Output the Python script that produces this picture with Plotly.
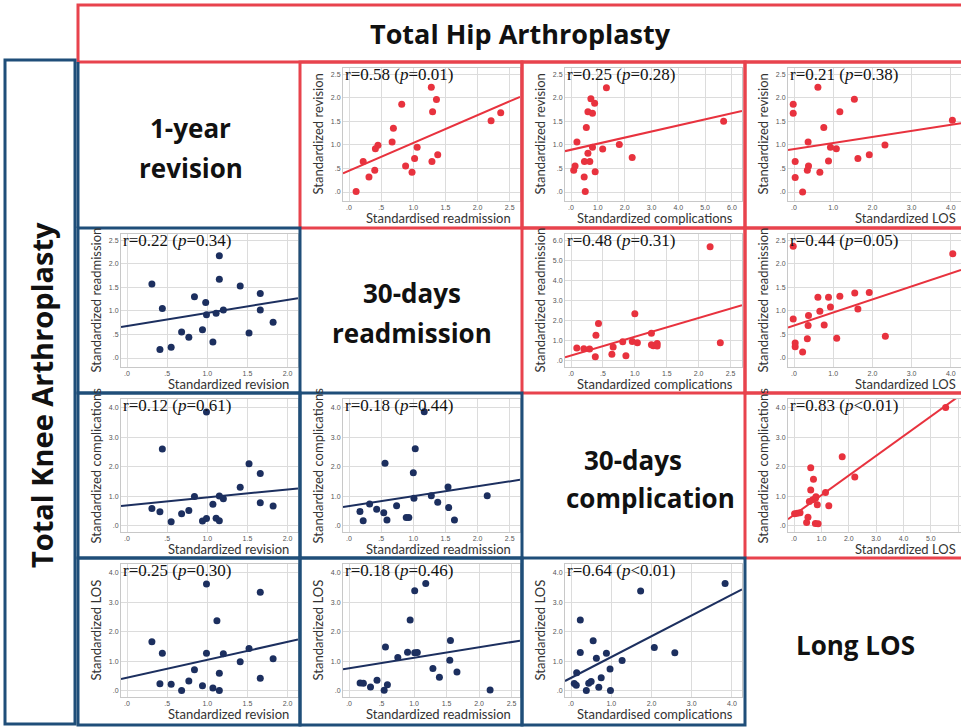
from plotly import graph_objs as go

W, H = 961, 727

# ---- data (standardized values) ----
# Total Hip Arthroplasty (upper triangle)
hip_readm_vs_rev_x = [0.11, 0.22, 0.31, 0.40, 0.41, 0.45, 0.67, 0.69, 0.82, 0.88,
                      0.98, 1.02, 1.06, 1.28, 1.29, 1.30, 1.36, 1.38, 2.21, 2.36]
hip_readm_vs_rev_y = [0.01, 0.65, 0.32, 0.46, 0.92, 0.99, 1.06, 1.35, 1.86, 0.55,
                      0.42, 0.71, 0.95, 2.22, 0.65, 1.70, 1.96, 0.79, 1.51, 1.68]

hip_comp_vs_rev_x = [0.10, 0.15, 0.22, 0.49, 0.50, 0.53, 0.57, 0.63, 0.63, 0.70,
                     0.74, 0.80, 0.80, 0.88, 0.90, 1.18, 1.32, 1.80, 2.28, 5.69]
hip_comp_vs_rev_y = [0.46, 0.55, 1.06, 0.32, 0.65, 0.01, 1.37, 0.82, 1.70, 0.65,
                     1.98, 1.67, 0.95, 1.88, 0.43, 0.91, 2.21, 1.01, 0.73, 1.50]

hip_los_vs_rev_x = [-0.02, -0.02, 0.03, 0.03, 0.22, 0.34, 0.36, 0.37, 0.61, 0.66,
                    0.76, 0.88, 0.93, 1.08, 1.17, 1.54, 1.63, 1.92, 2.32, 4.04]
hip_los_vs_rev_y = [1.86, 1.67, 0.65, 0.31, 0.00, 0.46, 1.06, 0.55, 2.22, 0.42,
                    1.37, 0.66, 0.95, 0.92, 1.70, 1.97, 0.71, 0.79, 1.00, 1.52]

hip_comp_vs_readm_x = [0.09, 0.20, 0.29, 0.38, 0.39, 0.43, 0.64, 0.66, 0.81, 0.86,
                       0.96, 1.00, 1.04, 1.26, 1.26, 1.29, 1.35, 1.35, 2.18, 2.34]
hip_comp_vs_readm_y = [0.64, 0.61, 0.59, 0.21, 1.27, 1.86, 0.33, 0.69, 0.95, 0.26,
                       0.97, 2.34, 0.90, 1.38, 0.81, 0.76, 0.86, 0.74, 5.67, 0.90]

hip_los_vs_readm_x = [-0.02, -0.02, 0.03, 0.03, 0.22, 0.34, 0.36, 0.37, 0.61, 0.66,
                      0.77, 0.88, 0.93, 1.09, 1.17, 1.55, 1.63, 1.92, 2.33, 4.05]
hip_los_vs_readm_y = [2.37, 0.83, 0.32, 0.24, 0.13, 0.41, 0.69, 0.90, 1.29, 0.99,
                      0.70, 1.29, 1.08, 0.42, 1.31, 1.38, 1.04, 1.39, 0.46, 2.21]

hip_los_vs_comp_x = [0.02, 0.12, 0.22, 0.46, 0.51, 0.56, 0.61, 0.61, 0.68, 0.71,
                     0.78, 0.78, 0.80, 0.85, 0.88, 1.15, 1.27, 1.76, 2.22, 5.54]
hip_los_vs_comp_y = [0.40, 0.42, 0.43, 0.10, 0.28, 0.82, 1.96, 1.21, 0.88, 1.57,
                     0.92, 0.07, 0.98, 0.71, 0.06, 1.12, 0.67, 2.34, 1.65, 4.01]

# Total Knee Arthroplasty (lower triangle)
knee_rev_vs_readm_x = [0.31, 0.41, 0.44, 0.55, 0.68, 0.77, 0.84, 0.94, 0.98, 0.99,
                       1.07, 1.11, 1.15, 1.15, 1.20, 1.41, 1.52, 1.66, 1.66, 1.82]
knee_rev_vs_readm_y = [1.57, 0.18, 1.05, 0.23, 0.55, 0.44, 1.30, 0.60, 1.18, 0.92,
                       0.34, 0.95, 2.17, 1.67, 1.02, 1.53, 0.53, 1.37, 1.02, 0.76]

knee_rev_vs_comp_x = [0.31, 0.41, 0.44, 0.55, 0.68, 0.77, 0.84, 0.94, 0.99, 0.99,
                      1.07, 1.11, 1.15, 1.15, 1.20, 1.41, 1.52, 1.66, 1.66, 1.82]
knee_rev_vs_comp_y = [0.58, 0.47, 2.60, 0.13, 0.40, 0.51, 0.99, 0.15, 3.86, 0.24,
                      0.72, 0.25, 1.00, 0.16, 0.91, 1.30, 2.10, 1.77, 0.77, 0.66]

knee_readm_vs_comp_x = [0.17, 0.22, 0.32, 0.43, 0.54, 0.56, 0.59, 0.74, 0.89, 0.93,
                        1.00, 1.01, 1.03, 1.17, 1.28, 1.38, 1.54, 1.55, 1.64, 2.15]
knee_readm_vs_comp_y = [0.48, 0.16, 0.73, 0.55, 0.43, 2.12, 0.19, 0.67, 0.27, 0.27,
                        1.79, 0.93, 2.61, 3.87, 1.01, 0.79, 1.31, 0.61, 0.19, 1.01]

knee_rev_vs_los_x = [0.31, 0.41, 0.44, 0.55, 0.68, 0.77, 0.84, 0.94, 0.99, 0.99,
                     1.07, 1.12, 1.15, 1.15, 1.20, 1.41, 1.52, 1.66, 1.66, 1.82]
knee_rev_vs_los_y = [1.66, 0.23, 1.27, 0.21, 0.00, 0.32, 0.71, 0.16, 3.62, 1.27,
                     0.09, 2.37, 0.59, 0.00, 1.25, 0.98, 1.43, 3.34, 0.42, 1.08]

knee_readm_vs_los_x = [0.17, 0.22, 0.33, 0.43, 0.54, 0.56, 0.59, 0.75, 0.90, 0.94,
                       1.01, 1.01, 1.05, 1.18, 1.29, 1.39, 1.55, 1.56, 1.66, 2.17]
knee_readm_vs_los_y = [0.26, 0.25, 0.12, 0.35, 0.01, 1.48, 0.20, 1.12, 1.30, 2.40,
                       3.39, 1.28, 1.29, 3.64, 0.75, 0.45, 1.03, 1.70, 0.63, 0.02]

knee_comp_vs_los_x = [0.08, 0.13, 0.14, 0.23, 0.23, 0.38, 0.44, 0.50, 0.55, 0.63,
                      0.69, 0.75, 0.88, 0.97, 0.98, 1.27, 1.73, 2.07, 2.58, 3.83]
knee_comp_vs_los_y = [0.24, 0.18, 0.60, 2.40, 1.29, 0.00, 0.25, 0.31, 1.69, 1.10,
                      0.11, 0.43, 1.27, 0.73, 0.00, 1.02, 3.38, 1.46, 1.28, 3.64]

# fitted lines (intercept, slope) and correlation labels
fit_lines = {
    (0, 1): (0.45, 0.59), (0, 2): (0.896, 0.129), (0, 3): (0.91, 0.129),
    (1, 0): (0.68, 0.277), (1, 2): (0.27, 0.93), (1, 3): (0.69, 0.277),
    (2, 0): (0.68, 0.273), (2, 1): (0.66, 0.336), (2, 3): (0.36, 0.67),
    (3, 0): (0.44, 0.606), (3, 1): (0.755, 0.357), (3, 2): (0.43, 0.708),
}
stats_labels = {
    (0, 1): ("0.58", "=0.01"), (0, 2): ("0.25", "=0.28"), (0, 3): ("0.21", "=0.38"),
    (1, 0): ("0.22", "=0.34"), (1, 2): ("0.48", "=0.31"), (1, 3): ("0.44", "=0.05"),
    (2, 0): ("0.12", "=0.61"), (2, 1): ("0.18", "=0.44"), (2, 3): ("0.83", "&lt;0.01"),
    (3, 0): ("0.25", "=0.30"), (3, 1): ("0.18", "=0.46"), (3, 2): ("0.64", "&lt;0.01"),
}

# tick sets
ticks_25 = ([0, 0.5, 1, 1.5, 2, 2.5], [".0", ".5", "1.0", "1.5", "2.0", "2.5"])
ticks_20 = ([0, 0.5, 1, 1.5, 2], [".0", ".5", "1.0", "1.5", "2.0"])
ticks_40 = ([0, 1, 2, 3, 4], [".0", "1.0", "2.0", "3.0", "4.0"])
ticks_60 = ([0, 1, 2, 3, 4, 5, 6], [".0", "1.0", "2.0", "3.0", "4.0", "5.0", "6.0"])

row_titles = ["Standardized revision", "Standardized readmission",
              "Standardized complications", "Standardized LOS"]

diagonal_labels = [["1-year", "revision"], ["30-days", "readmission"],
                   ["30-days", "complication"], ["Long LOS"]]

HIP_RED = "#e8323e"
HIP_BORDER = "#e8434d"
KNEE_NAVY = "#1c2f5f"
KNEE_BORDER = "#1f4e79"

COL_EDGES = [78, 300, 522, 745, 967]
ROW_EDGES = [62, 228, 393, 558, 725]

# cell, x data, y data, x title, x ticks, x range, y ticks, y range
panels = [
    ((0, 1), hip_readm_vs_rev_x, hip_readm_vs_rev_y, "Standardised readmission",
     ticks_25, [-0.094, 2.66], ticks_25, [-0.19, 2.63]),
    ((0, 2), hip_comp_vs_rev_x, hip_comp_vs_rev_y, "Standardized complications",
     ticks_60, [-0.225, 6.375], ticks_25, [-0.19, 2.63]),
    ((0, 3), hip_los_vs_rev_x, hip_los_vs_rev_y, "Standardized LOS",
     ticks_40, [-0.153, 4.26], ticks_25, [-0.19, 2.63]),
    ((1, 0), knee_rev_vs_readm_x, knee_rev_vs_readm_y, "Standardized revision",
     ticks_20, [-0.075, 2.13], ticks_25, [-0.19, 2.63]),
    ((1, 2), hip_comp_vs_readm_x, hip_comp_vs_readm_y, "Standardized complications",
     ticks_25, [-0.095, 2.68], ticks_60, [-0.3, 6.3]),
    ((1, 3), hip_los_vs_readm_x, hip_los_vs_readm_y, "Standardized LOS",
     ticks_40, [-0.153, 4.26], ticks_25, [-0.19, 2.63]),
    ((2, 0), knee_rev_vs_comp_x, knee_rev_vs_comp_y, "Standardized revision",
     ticks_20, [-0.075, 2.13], ticks_40, [-0.22, 4.3]),
    ((2, 1), knee_readm_vs_comp_x, knee_readm_vs_comp_y, "Standardized readmission",
     ticks_25, [-0.094, 2.66], ticks_40, [-0.22, 4.3]),
    ((2, 3), hip_los_vs_comp_x, hip_los_vs_comp_y, "Standardized LOS",
     ticks_60, [-0.22, 6.10], ticks_40, [-0.22, 4.3]),
    ((3, 0), knee_rev_vs_los_x, knee_rev_vs_los_y, "Standardized revision",
     ticks_20, [-0.075, 2.13], ticks_40, [-0.22, 4.3]),
    ((3, 1), knee_readm_vs_los_x, knee_readm_vs_los_y, "Standardized readmission",
     ticks_25, [-0.093, 2.63], ticks_40, [-0.22, 4.3]),
    ((3, 2), knee_comp_vs_los_x, knee_comp_vs_los_y, "Standardised complications",
     ticks_40, [-0.15, 4.25], ticks_40, [-0.22, 4.3]),
]


def fx(p):
    return p / W


def fy(p):
    return 1 - p / H


fig = go.Figure()
annotations = []
shapes = []
axes = {}

tick_font = dict(family="Liberation Sans", size=7, color="#555555")
title_font = dict(family="Lato", size=13, color="#333333")

for i, (cell, xs, ys, x_title, xt, xr, yt, yr) in enumerate(panels, start=1):
    row, col = cell
    is_hip = col > row
    color = HIP_RED if is_hip else KNEE_NAVY
    cx0 = COL_EDGES[col]
    cy0 = ROW_EDGES[row]
    left, right = cx0 + 43, min(cx0 + 220, W)
    top, bottom = cy0 + 6, cy0 + 139
    sfx = "" if i == 1 else str(i)

    fig.add_trace(go.Scatter(
        x=xs, y=ys, mode="markers", xaxis="x" + sfx, yaxis="y" + sfx,
        marker=dict(color=color, size=7), showlegend=False,
    ))
    a, b = fit_lines[cell]
    fig.add_trace(go.Scatter(
        x=[xr[0], xr[1]], y=[a + b * xr[0], a + b * xr[1]], mode="lines",
        xaxis="x" + sfx, yaxis="y" + sfx,
        line=dict(color=color, width=2), showlegend=False,
    ))

    common = dict(showgrid=True, gridcolor="#dcdcdc", gridwidth=1, zeroline=False,
                  showline=True, mirror=True, linecolor="#c8c8c8", linewidth=1,
                  ticks="", tickfont=tick_font, fixedrange=True)
    axes["xaxis" + sfx] = dict(common, domain=[fx(left), fx(right)], anchor="y" + sfx,
                               range=xr, tickvals=xt[0], ticktext=xt[1])
    axes["yaxis" + sfx] = dict(common, domain=[fy(bottom), fy(top)], anchor="x" + sfx,
                               range=yr, tickvals=yt[0], ticktext=yt[1])

    r_txt, p_txt = stats_labels[cell]
    annotations.append(dict(
        text=f"r={r_txt} (<i>p</i>{p_txt})", x=fx(left), y=fy(cy0 + 12),
        xref="paper", yref="paper", xanchor="left", yanchor="middle", showarrow=False,
        font=dict(family="Liberation Serif", size=17, color="#111111"),
    ))
    annotations.append(dict(
        text=x_title, x=fx(cx0 + 213), y=fy(cy0 + 156), xref="paper", yref="paper",
        xanchor="right", yanchor="middle", showarrow=False, font=title_font,
    ))
    annotations.append(dict(
        text=row_titles[row], x=fx(cx0 + 17), y=fy((top + bottom) / 2),
        xref="paper", yref="paper", xanchor="center", yanchor="middle",
        textangle=-90, showarrow=False, font=title_font,
    ))

    border = HIP_BORDER if is_hip else KNEE_BORDER
    shapes.append(dict(type="rect", xref="paper", yref="paper",
                       x0=fx(cx0), x1=fx(COL_EDGES[col + 1]),
                       y0=fy(ROW_EDGES[row + 1]), y1=fy(cy0),
                       line=dict(color=border, width=3)))

# diagonal labels
diag_pos = [[(190, 128), (191, 168)], [(412, 293), (412, 333)],
            [(633, 460), (650, 498)], [(855, 645)]]
for lines, pos in zip(diagonal_labels, diag_pos):
    for text, (px, py) in zip(lines, pos):
        annotations.append(dict(
            text=f"<b>{text}</b>", x=fx(px), y=fy(py), xref="paper", yref="paper",
            xanchor="center", yanchor="middle", showarrow=False,
            font=dict(family="Open Sans", size=26, color="#111111"),
        ))

# group headers
annotations.append(dict(
    text="<b>Total Hip Arthroplasty</b>", x=fx(520), y=fy(33), xref="paper", yref="paper",
    xanchor="center", yanchor="middle", showarrow=False,
    font=dict(family="Open Sans", size=27, color="#111111"),
))
annotations.append(dict(
    text="<b>Total Knee Arthroplasty</b>", x=fx(42), y=fy(395), xref="paper", yref="paper",
    xanchor="center", yanchor="middle", textangle=-90, showarrow=False,
    font=dict(family="Open Sans", size=29, color="#111111"),
))
shapes.append(dict(type="rect", xref="paper", yref="paper", x0=fx(78), x1=fx(980),
                   y0=fy(62), y1=fy(5), line=dict(color=HIP_BORDER, width=3)))
shapes.append(dict(type="rect", xref="paper", yref="paper", x0=fx(5), x1=fx(75),
                   y0=fy(724), y1=fy(60), line=dict(color=KNEE_BORDER, width=3)))
shapes.append(dict(type="line", xref="paper", yref="paper", x0=fx(78), x1=fx(78),
                   y0=fy(228), y1=fy(62), line=dict(color=KNEE_BORDER, width=3)))

fig.update_layout(
    width=W, height=H, margin=dict(l=0, r=0, t=0, b=0),
    paper_bgcolor="white", plot_bgcolor="white",
    annotations=annotations, shapes=shapes, showlegend=False,
    **axes,
)

# the page body has a default margin; drop it so the figure sits at the window corner
fig.write_html(
    "out.html",
    config={"displayModeBar": False},
    post_script="document.body.style.margin = '0';",
)
